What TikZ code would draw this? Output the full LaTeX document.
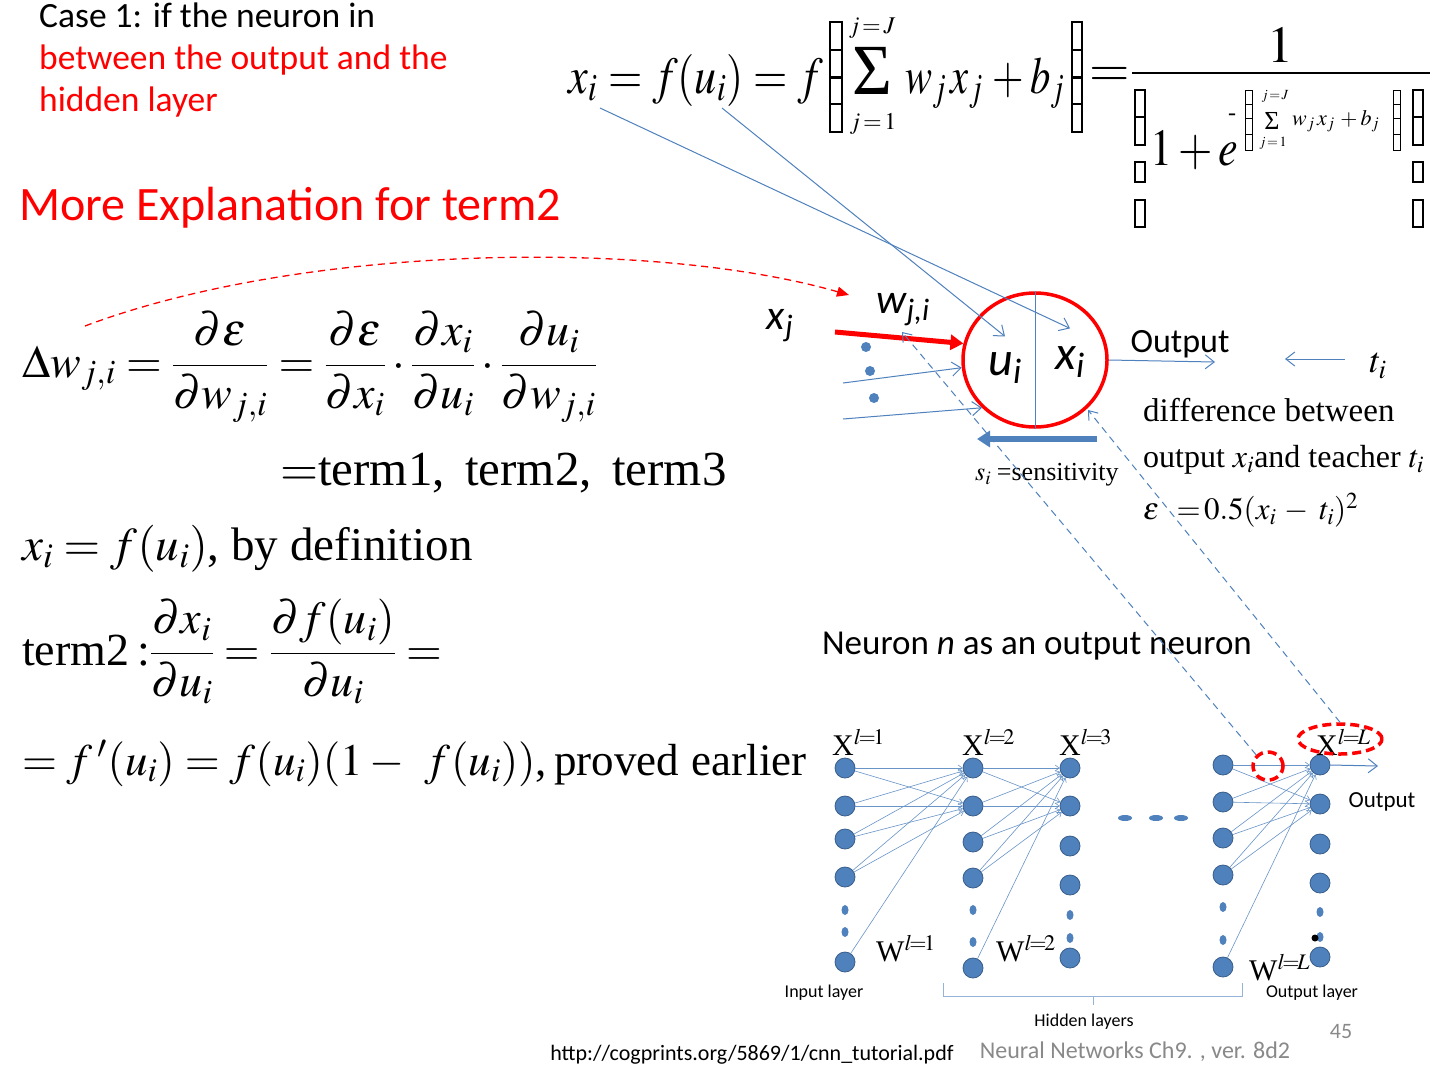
\documentclass[tikz,border=0pt]{standalone}
\usepackage{amsmath}
\usepackage{mathptmx}
\usepackage[no-math]{fontspec}
\setmainfont{Carlito}
\newfontfamily\serifface{Liberation Serif}
\usetikzlibrary{arrows.meta,shapes.geometric,positioning}
\definecolor{NetBlue}{RGB}{79,129,189}
\definecolor{NetBlueDark}{RGB}{56,93,138}
\definecolor{SlideRed}{RGB}{255,0,0}
\definecolor{FootGray}{RGB}{137,137,137}
\definecolor{BraceBlue}{RGB}{149,179,215}
\newcommand{\fsz}[1]{\fontsize{#1}{#1}\selectfont}

\begin{document}
\begin{tikzpicture}[x=1pt,y=-1pt,
    neuronunit/.style={circle,fill=NetBlue,draw=NetBlueDark,line width=0.8pt,minimum size=20pt,inner sep=0pt},
    dotunit/.style={ellipse,fill=NetBlue,minimum width=7pt,minimum height=10pt,inner sep=0pt},
    wire/.style={NetBlue!85,line width=0.6pt,-{Straight Barb[length=4pt,width=6pt]}},
    thinarrow/.style={NetBlue,line width=1pt,-{Straight Barb[length=9pt,width=14pt]}},
    tofu/.style={black,line width=1.3pt},
    eqn/.style={inner sep=0pt,anchor=base west,font=\serifface\fsz{46}},
    fml/.style={inner sep=0pt,font=\serifface\fsz{52}},
    layerlabel/.style={inner sep=0pt,font=\serifface\fsz{30}},
    redmark/.style={draw=SlideRed,line width=3.5pt,dash pattern=on 9pt off 5pt,ellipse,inner sep=0pt}]
  \fill[white] (0,0) rectangle (1440,1080);

  % Heading
  \node[anchor=north west,align=left,inner sep=0pt,font=\fontsize{35.5}{42}\selectfont] (case) at (39,3)
    {Case 1: if the neuron in\\\textcolor{SlideRed}{between the output and the}\\\textcolor{SlideRed}{hidden layer}};
  \node[anchor=west,inner sep=0pt,font=\fsz{48},text=SlideRed] (more) at (19,208) {More Explanation for term2};

  % Top formula
  \node[fml,anchor=base west] (topxi) at (568,93) {\scalebox{0.85}[1]{$x_i$}};
  \node[fml,anchor=base west] (topfu) at (608,93) {\scalebox{0.85}[1]{$=f(u_i)=f$}};
  \node[inner sep=0pt,font=\serifface\fsz{72}] (topsum) at (872,71) {\scalebox{0.95}[1]{Σ}};
  \node[inner sep=0pt,font=\serifface\fsz{24}] (toptop) at (872,28) {$j\!=\!J$};
  \node[inner sep=0pt,font=\serifface\fsz{24}] (topbot) at (873,124) {$j\!=\!1$};
  \node[fml,anchor=base west] (topwx) at (905,93) {\scalebox{0.78}[1]{$w_j\,x_j\,+b_j$}};
  \node[fml] (topeq) at (1110,77) {$=$};
  \draw[line width=2.2pt] (1132,73) -- (1430,73);
  \node[fml] (topone) at (1280,45) {$1$};
  \node[fml,anchor=base west] (topden) at (1150,165) {\scalebox{0.85}[1]{$1+e$}};
  \node[inner sep=0pt,font=\serifface\fsz{24}] (expminus) at (1232,117) {-};
  \node[inner sep=0pt,font=\serifface\fsz{26}] (expsum) at (1272,121) {Σ};
  \node[inner sep=0pt,font=\serifface\fsz{14}] (exptop) at (1275,96) {$j\!=\!J$};
  \node[inner sep=0pt,font=\serifface\fsz{14}] (expbot) at (1273,143) {$j\!=\!1$};
  \node[inner sep=0pt,anchor=west,font=\serifface\fsz{22}] (expwx) at (1292,121) {$w_j\,x_j\,+b_j$};
  % missing glyph boxes
  \foreach \xa/\xb in {830/842,1072/1082}
    \foreach \ya/\yb in {22/50,50/77,78/104,104/132}
      \draw[tofu] (\xa,\ya) rectangle (\xb,\yb);
  \foreach \xa/\xb in {1135/1145,1413/1423}
    \foreach \ya/\yb in {90/117,117/145,162/182,200/227}
      \draw[tofu] (\xa,\ya) rectangle (\xb,\yb);
  \foreach \xa/\xb in {1245/1252,1393/1400}
    \foreach \ya/\yb in {90/104,104/118,118/134,134/150}
      \draw[tofu,line width=0.9pt] (\xa,\ya) rectangle (\xb,\yb);

  % Left equations
  \node[eqn] (deltaw) at (22,377) {$\displaystyle \Delta w_{j,i} = \frac{\partial\varepsilon}{\partial w_{j,i}}
     = \frac{\partial\varepsilon}{\partial x_i}\cdot\frac{\partial x_i}{\partial u_i}\cdot\frac{\partial u_i}{\partial w_{j,i}}$};
  \node[eqn,font=\serifface\fsz{49}] (terms) at (280,485) {$=$term1,\, term2,\, term3};
  \node[eqn,font=\serifface\fsz{47}] (bydef) at (22,560) {$x_i = f(u_i)$, by definition};
  \node[eqn] (term2) at (22,665) {term2\,:$\displaystyle\frac{\partial x_i}{\partial u_i} = \frac{\partial f(u_i)}{\partial u_i} =$};
  \node[eqn,font=\serifface\fsz{45}] (fprime) at (22,775) {$= f\,'(u_i) = f(u_i)(1-\;\,f(u_i))$,\,proved\;earlier};

  % Neuron
  \node[ellipse,draw=SlideRed,line width=3.5pt,minimum width=144pt,minimum height=134pt] (neuron) at (1035,360) {};
  \draw[NetBlue,line width=1pt] (neuron.north) -- (neuron.south);
  \node[inner sep=0pt,font=\fsz{48}] (ulabel) at (1005,368) {\textit{u}\textsubscript{\textit{i}}};
  \node[inner sep=0pt,font=\fsz{48}] (xlabel) at (1070,362) {\textit{x}\textsubscript{\textit{i}}};
  \node[inner sep=0pt,font=\fsz{42}] (xj) at (780,326) {\textit{x}\textsubscript{\textit{j}}};
  \node[inner sep=0pt,font=\fsz{42}] (wji) at (903,310) {\textit{w}\textsubscript{\textit{j,i}}};
  \foreach \n/\x/\y in {1/866/347,2/870/371,3/874/398}
    \node[circle,fill=NetBlue,inner sep=0pt,minimum size=10pt] (indot\n) at (\x,\y) {};
  \coordinate (redstart) at (835,332);
  \coordinate (inA) at (843,383);
  \coordinate (inB) at (843,419);
  \draw[SlideRed,line width=5pt,-{Triangle[length=13pt,width=15pt]}] (redstart) -- (neuron.167);
  \draw[thinarrow] (inA) -- (neuron.186);
  \draw[thinarrow] (inB) -- (neuron.222);
  % links from the formula
  \coordinate (xstart) at (600,108);
  \coordinate (ustart) at (722,108);
  \draw[thinarrow] (xstart) -- ([yshift=18pt]xlabel.north);
  \draw[thinarrow] (ustart) -- ([yshift=16pt]ulabel.north);
  % output side
  \coordinate (outend) at (1215,362);
  \draw[thinarrow] (neuron.east) -- (outend);
  \node[inner sep=0pt,font=\fsz{34}] (outtxt) at (1180,344) {Output};
  \node[inner sep=0pt,font=\serifface\fsz{36}] (tlabel) at (1378,366) {$t_i$};
  \coordinate (tstart) at (1345,359);
  \coordinate (tend) at (1285,359);
  \draw[thinarrow] (tstart) -- (tend);
  \node[inner sep=0pt,anchor=west,font=\serifface\fsz{33}] (diff1) at (1143,410) {difference between};
  \node[inner sep=0pt,anchor=west,font=\serifface\fsz{32}] (diff2) at (1143,460) {output $x_i$and teacher $t_i$};
  \node[inner sep=0pt,anchor=west,font=\serifface\fsz{31}] (diff3) at (1143,510) {$\varepsilon\;\,=\!0.5(x_i\,-\;t_i)^2$};
  % sensitivity
  \coordinate (sensstart) at (1097,439);
  \coordinate (sensend) at (977,439);
  \draw[NetBlue,line width=6pt,-{Triangle[length=13pt,width=16pt]}] (sensstart) -- (sensend);
  \node[inner sep=0pt,anchor=west,font=\serifface\fsz{26}] (sens) at (975,475) {$s_i\;$=sensitivity};

  \node[inner sep=0pt,font=\fsz{35}] (outneuron) at (1037,646) {Neuron \textit{n} as an output neuron};

  % Network
  \foreach \n/\y in {1/768,2/806,3/839,4/877,5/962}
    \node[neuronunit] (in\n) at (845,\y) {};
  \foreach \n/\y in {1/768,2/806,3/842,4/878,5/968}
    \node[neuronunit] (h\n) at (973,\y) {};
  \foreach \n/\y in {1/768,2/806,3/846,4/885,5/958}
    \node[neuronunit] (g\n) at (1070,\y) {};
  \foreach \n/\y in {1/765,2/802,3/838,4/875,5/967}
    \node[neuronunit] (k\n) at (1223,\y) {};
  \foreach \n/\y in {1/765,2/804,3/844,4/883,5/957}
    \node[neuronunit] (o\n) at (1320,\y) {};
  \foreach \c/\x/\ya/\yb in {in/845/910/932,h/973/910/942,g/1070/915/938,k/1223/907/940,o/1320/912/937} {
    \node[dotunit] (\c d1) at (\x,\ya) {};
    \node[dotunit] (\c d2) at (\x,\yb) {};
  }
  \node[circle,fill=black,inner sep=0pt,minimum size=7pt] (blackdot) at (1315,938) {};
  \foreach \n/\x in {1/1125,2/1156,3/1181}
    \node[ellipse,fill=NetBlue,inner sep=0pt,minimum width=14pt,minimum height=6pt] (gap\n) at (\x,818) {};
  % weights
  \foreach \a/\b in {in/h,h/g,k/o} {
    \foreach \s in {1,...,4}
      \foreach \t in {1,2}
        \draw[wire] (\a\s) -- (\b\t);
    \draw[wire] (\a5) -- (\b1);
  }
  \coordinate (netout) at (1378,766);
  \draw[thinarrow] (o1.east) -- (netout);
  % layer labels
  \node[layerlabel,anchor=base west] (X1) at (832,755) {X$^{l\!=\!1}$};
  \node[layerlabel,anchor=base west] (X2) at (962,755) {X$^{l\!=\!2}$};
  \node[layerlabel,anchor=base west] (X3) at (1059,755) {X$^{l\!=\!3}$};
  \node[layerlabel,anchor=base west] (XL) at (1316,755) {X$^{l\!=\!L}$};
  \node[layerlabel,anchor=base west] (W1) at (876,961) {W$^{l\!=\!1}$};
  \node[layerlabel,anchor=base west] (W2) at (996,961) {W$^{l\!=\!2}$};
  \node[layerlabel,anchor=base west] (WL) at (1249,980) {W$^{l\!=\!L}$};
  \node[inner sep=0pt,font=\fsz{23}] (netouttxt) at (1382,802) {Output};
  \node[inner sep=0pt,font=\fsz{18}] (inlayer) at (824,993) {Input layer};
  \node[inner sep=0pt,font=\fsz{18}] (outlayer) at (1312,993) {Output layer};
  \node[inner sep=0pt,font=\fsz{18}] (hidlayer) at (1084,1022) {Hidden layers};
  \draw[BraceBlue,line width=1pt] (943,983) -- (943,996) -- (1242,996) -- (1242,983);
  \draw[BraceBlue,line width=1pt] (1093,996) -- (1093,1005);

  % marks and dashed links
  \node[redmark,minimum width=30pt,minimum height=28pt] (hmark) at (1268,766) {};
  \node[redmark,minimum width=84pt,minimum height=30pt] (xmark) at (1340,739) {};
  \coordinate (wtip) at (902,332);
  \coordinate (ntip) at (1088,410);
  \draw[NetBlue,line width=1pt,dash pattern=on 7pt off 5pt,-{Straight Barb[length=8pt,width=12pt]}] (hmark.north west) -- (wtip);
  \draw[NetBlue,line width=1pt,dash pattern=on 7pt off 5pt,-{Straight Barb[length=8pt,width=12pt]}] (xmark.north) -- (ntip);
  \coordinate (curvestart) at (85,326);
  \coordinate (curveend) at (849,295);
  \draw[SlideRed,line width=1.3pt,dash pattern=on 7pt off 5pt,-{Triangle[length=12pt,width=10pt]}]
    (curvestart) .. controls (300,245) and (650,238) .. (curveend);

  % Footer
  \node[inner sep=0pt,font=\fsz{22},text=FootGray] (pagenum) at (1341,1031) {45};
  \node[inner sep=0pt,font=\fsz{24},text=FootGray] (course) at (1135,1052) {Neural Networks Ch9. , ver. 8d2};
  \node[inner sep=0pt,font=\fsz{22}] (url) at (752,1055) {http://cogprints.org/5869/1/cnn\_tutorial.pdf};
\end{tikzpicture}
\end{document}
